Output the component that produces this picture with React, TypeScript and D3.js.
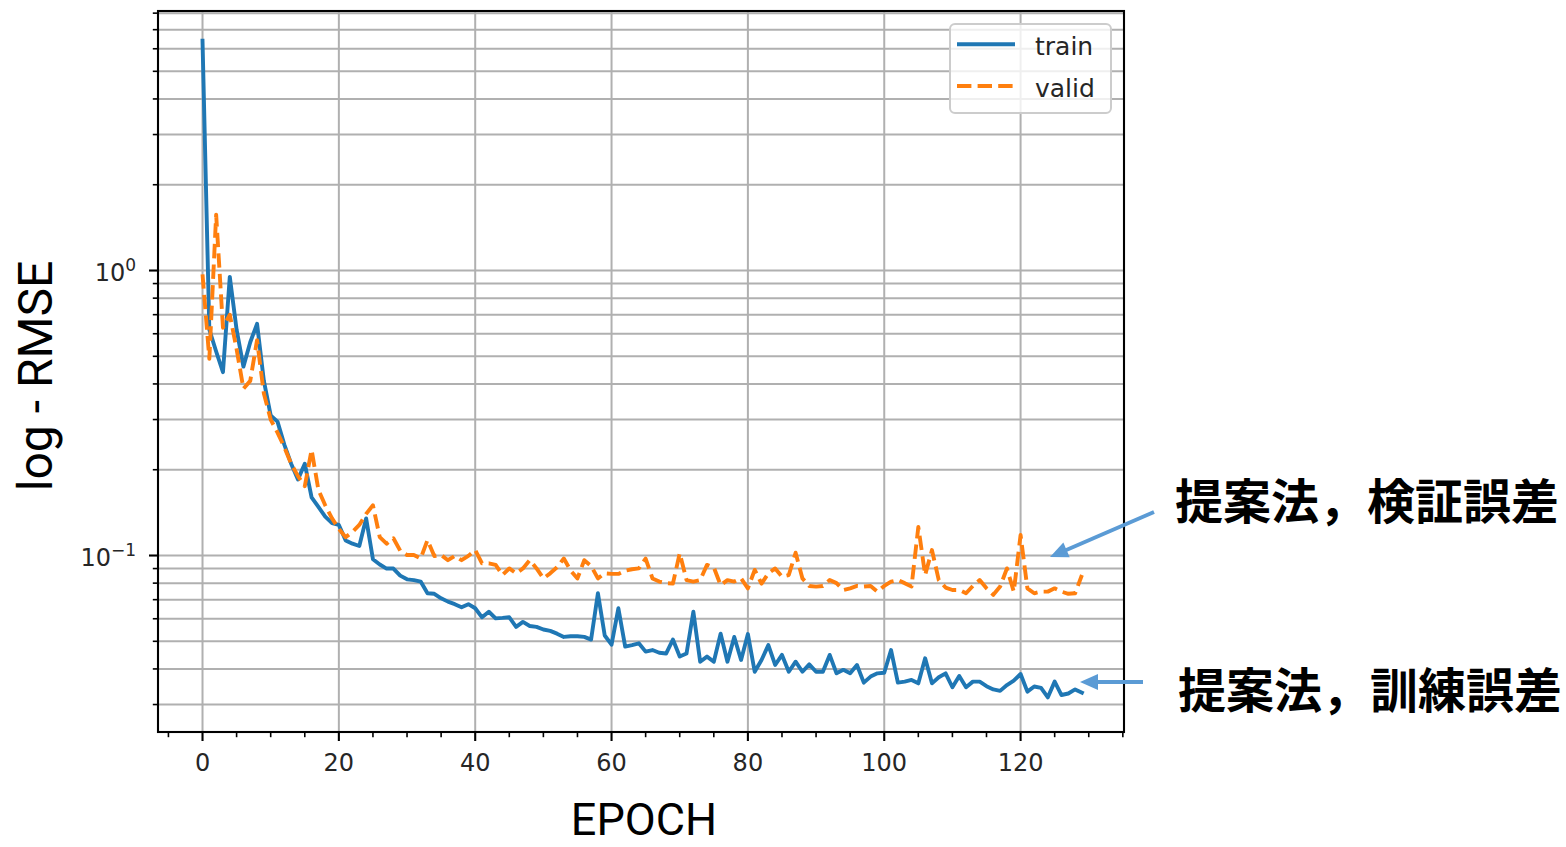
import React from "react";
import * as d3 from "d3";

// RMSE per epoch (0..129)
const trainRmse = [
  6.4, 0.62, 0.52, 0.44, 0.95, 0.62, 0.46, 0.56, 0.65, 0.41,
  0.31, 0.295, 0.245, 0.21, 0.185, 0.21, 0.16, 0.148, 0.137, 0.13,
  0.128, 0.113, 0.11, 0.108, 0.135, 0.097, 0.093, 0.09, 0.09, 0.085,
  0.0825, 0.082, 0.081, 0.0737, 0.0734, 0.0708, 0.0689, 0.0675, 0.0658, 0.0675,
  0.0653, 0.0607, 0.0635, 0.0602, 0.0604, 0.0607, 0.0562, 0.0585, 0.0566, 0.0562,
  0.055, 0.0544, 0.0532, 0.0518, 0.0521, 0.0521, 0.0518, 0.0507, 0.0737, 0.0524,
  0.0487, 0.0653, 0.0479, 0.0485, 0.0492, 0.046, 0.0466, 0.0456, 0.0453, 0.0507,
  0.0442, 0.0453, 0.0635, 0.0424, 0.0442, 0.0424, 0.0532, 0.0424, 0.0518, 0.043,
  0.053, 0.0391, 0.043, 0.0485, 0.0413, 0.0448, 0.0391, 0.0424, 0.0391, 0.0415,
  0.0391, 0.0391, 0.0448, 0.0386, 0.0397, 0.0386, 0.0413, 0.0358, 0.0376, 0.0386,
  0.0388, 0.0466, 0.0358, 0.0361, 0.0366, 0.0356, 0.0436, 0.0356, 0.0374, 0.0386,
  0.0345, 0.0378, 0.0345, 0.0361, 0.0361, 0.0348, 0.0339, 0.0335, 0.0351, 0.0364,
  0.0384, 0.0333, 0.0347, 0.0343, 0.0318, 0.0361, 0.0324, 0.0328, 0.0339, 0.033,
];

const validRmse = [
  0.97, 0.49, 1.57, 0.63, 0.7, 0.53, 0.385, 0.41, 0.57, 0.37,
  0.3, 0.27, 0.24, 0.21, 0.19, 0.175, 0.235, 0.17, 0.15, 0.135,
  0.124, 0.116, 0.121, 0.128, 0.14, 0.15, 0.116, 0.11, 0.115, 0.104,
  0.1004, 0.1004, 0.0976, 0.1133, 0.0996, 0.1004, 0.0963, 0.0997, 0.0963, 0.0997,
  0.1045, 0.0939, 0.0939, 0.0927, 0.0854, 0.0901, 0.0866, 0.0901, 0.0963, 0.0901,
  0.0831, 0.0866, 0.0909, 0.0976, 0.0885, 0.0831, 0.0963, 0.0919, 0.0831, 0.0866,
  0.0862, 0.0862, 0.0885, 0.0895, 0.0901, 0.0976, 0.0831, 0.081, 0.08, 0.0797,
  0.1018, 0.082, 0.081, 0.082, 0.0927, 0.0909, 0.0787, 0.082, 0.081, 0.0831,
  0.0767, 0.089, 0.0797, 0.0866, 0.0901, 0.0843, 0.0854, 0.1023, 0.0831, 0.0782,
  0.0778, 0.0782, 0.082, 0.08, 0.0757, 0.0767, 0.0782, 0.0778, 0.0782, 0.0747,
  0.0782, 0.081, 0.082, 0.08, 0.0778, 0.126, 0.0854, 0.1045, 0.082, 0.0772,
  0.0757, 0.0757, 0.0737, 0.0782, 0.082, 0.0767, 0.0728, 0.0778, 0.0901, 0.0747,
  0.118, 0.0767, 0.0737, 0.0747, 0.0747, 0.0767, 0.0747, 0.0734, 0.0737, 0.0854,
];

const xMajorTicks = [0, 20, 40, 60, 80, 100, 120];
const yMajorTicks = [1, 0.1];
const yTickLabels = [["10", "0"], ["10", "\u22121"]];
const seriesNames = ["train", "valid"];
const seriesColors = ["#1f77b4", "#ff7f0e"];
const notes = ["提案法，検証誤差", "提案法，訓練誤差"];

const W = 1566;
const H = 847;
const box = { left: 158, top: 11, right: 1124, bottom: 732 };

const LW = 3.9; // data line width
const GRID = "#b0b0b0";
const TICK_FONT = "'DejaVu Sans', sans-serif";

// arrowhead as triangle at (x2,y2) coming from (x1,y1)
const arrowHead = (x1, y1, x2, y2, len = 18, half = 8) => {
  const a = Math.atan2(y2 - y1, x2 - x1);
  const bx = x2 - len * Math.cos(a);
  const by = y2 - len * Math.sin(a);
  const px = -Math.sin(a) * half;
  const py = Math.cos(a) * half;
  return `${x2},${y2} ${bx + px},${by + py} ${bx - px},${by - py}`;
};

export default function App() {
  const x = d3.scaleLinear().domain([-6.53, 135.17]).range([box.left, box.right]);
  const y = d3.scaleLog().domain([0.02403, 8.14]).range([box.bottom, box.top]);

  // minor log ticks 2..9 x 10^k inside the domain
  const [yLo, yHi] = y.domain();
  const yMinorTicks = [];
  for (let k = -2; k <= 0; k++) {
    for (let m = 1; m <= 9; m++) {
      const v = m * Math.pow(10, k);
      if (v >= yLo && v <= yHi && !yMajorTicks.some((t) => Math.abs(t - v) < 1e-9)) yMinorTicks.push(v);
    }
  }
  const yAllTicks = [...yMajorTicks, ...yMinorTicks];
  const xMinorTicks = d3.range(-5, 136, 5).filter((v) => !xMajorTicks.includes(v));

  const line = d3
    .line<number>()
    .x((_, i) => x(i))
    .y((d) => y(d));

  const series = [trainRmse, validRmse];

  // legend placement
  const lg = { x: 950, y: 24, w: 161, h: 89 };

  return (
    <div style={{ position: "absolute", left: 0, top: 0, width: W, height: H, background: "#fff" }}>
      <svg width={W} height={H} viewBox={`0 0 ${W} ${H}`} style={{ display: "block" }}>
        <defs>
          <clipPath id="axclip">
            <rect x={box.left} y={box.top} width={box.right - box.left} height={box.bottom - box.top} />
          </clipPath>
        </defs>
        <rect x={0} y={0} width={W} height={H} fill="#fff" />

        {/* grid */}
        <g stroke={GRID} strokeWidth={2}>
          {yAllTicks.map((v) => (
            <line key={"gy" + v} x1={box.left} x2={box.right} y1={y(v)} y2={y(v)} />
          ))}
          {xMajorTicks.map((v) => (
            <line key={"gx" + v} x1={x(v)} x2={x(v)} y1={box.top} y2={box.bottom} />
          ))}
        </g>

        {/* data */}
        <g clipPath="url(#axclip)" fill="none">
          <path
            d={line(series[0]) || ""}
            stroke={seriesColors[0]}
            strokeWidth={LW}
            strokeLinejoin="round"
            strokeLinecap="square"
          />
          <path
            d={line(series[1]) || ""}
            stroke={seriesColors[1]}
            strokeWidth={LW}
            strokeLinejoin="round"
            strokeLinecap="butt"
            strokeDasharray="14.4 6.2"
          />
        </g>

        {/* spines */}
        <rect
          x={box.left}
          y={box.top}
          width={box.right - box.left}
          height={box.bottom - box.top}
          fill="none"
          stroke="#000"
          strokeWidth={2.1}
        />

        {/* ticks */}
        <g stroke="#000">
          {xMajorTicks.map((v) => (
            <line key={"xt" + v} x1={x(v)} x2={x(v)} y1={box.bottom} y2={box.bottom + 9} strokeWidth={2.1} />
          ))}
          {xMinorTicks.map((v) => (
            <line key={"xm" + v} x1={x(v)} x2={x(v)} y1={box.bottom} y2={box.bottom + 5.2} strokeWidth={1.6} />
          ))}
          {yMajorTicks.map((v) => (
            <line key={"yt" + v} x1={box.left - 9} x2={box.left} y1={y(v)} y2={y(v)} strokeWidth={2.1} />
          ))}
          {yMinorTicks.map((v) => (
            <line key={"ym" + v} x1={box.left - 5.2} x2={box.left} y1={y(v)} y2={y(v)} strokeWidth={1.6} />
          ))}
        </g>

        <g fontFamily={TICK_FONT} fontSize={24} fill="#262626">
          {xMajorTicks.map((v) => (
            <text key={"xl" + v} x={x(v)} y={771} textAnchor="middle">
              {v}
            </text>
          ))}
          {yMajorTicks.map((v, i) => (
            <text key={"yl" + v} x={136} y={y(v) + 10} textAnchor="end">
              {yTickLabels[i][0]}
              <tspan dy={-10} fontSize={17}>
                {yTickLabels[i][1]}
              </tspan>
            </text>
          ))}
        </g>

        {/* legend */}
        <rect
          x={lg.x}
          y={lg.y}
          width={lg.w}
          height={lg.h}
          rx={5}
          fill="#fff"
          fillOpacity={0.8}
          stroke="#cccccc"
          strokeWidth={2}
        />
        {seriesNames.map((name, i) => {
          const ly = 44.3 + i * 41.7;
          return (
            <g key={name}>
              <line
                x1={957}
                x2={1015}
                y1={ly}
                y2={ly}
                stroke={seriesColors[i]}
                strokeWidth={LW}
                strokeDasharray={i === 1 ? "14.4 6.2" : undefined}
              />
              <text x={1035} y={ly + 10.5} fontFamily={TICK_FONT} fontSize={25} fill="#262626">
                {name}
              </text>
            </g>
          );
        })}

        {/* axis labels */}
        <text
          transform="translate(52,376) rotate(-90)"
          textAnchor="middle"
          fontFamily="Roboto, sans-serif"
          fontSize={48}
          fill="#000"
        >
          log - RMSE
        </text>
        <text x={644} y={835} textAnchor="middle" fontFamily="Roboto, sans-serif" fontSize={45} fill="#000">
          EPOCH
        </text>

        {/* annotations */}
        <g fill="#000" fontFamily="'Noto Sans CJK JP', sans-serif" fontWeight={700} fontSize={48}>
          <text x={1175} y={519}>
            {notes[0]}
          </text>
          <text x={1178} y={708}>
            {notes[1]}
          </text>
        </g>
        <g stroke="#5B9BD5" strokeWidth={4} fill="#5B9BD5">
          <line x1={1154} y1={512} x2={1064} y2={551} />
          <polygon points={arrowHead(1154, 512, 1050, 557)} stroke="none" />
          <line x1={1143} y1={682} x2={1094} y2={682} />
          <polygon points={arrowHead(1143, 682, 1080, 682)} stroke="none" />
        </g>
      </svg>
    </div>
  );
}
